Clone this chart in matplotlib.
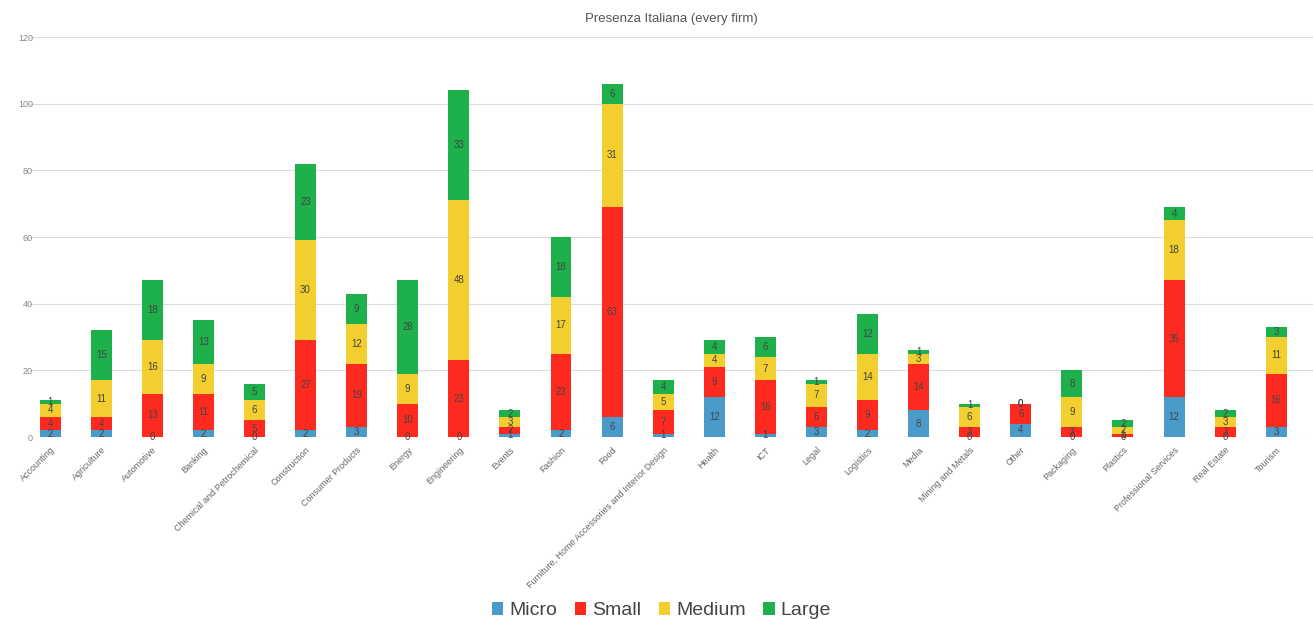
import matplotlib
matplotlib.use("Agg")
import matplotlib.pyplot as plt
import numpy as np

plt.rcParams['font.family'] = ['Liberation Sans', 'DejaVu Sans']

# sectors and firm counts per size class
categories = ['Accounting', 'Agriculture', 'Automotive', 'Banking',
              'Chemical and Petrochemical', 'Construction', 'Consumer Products',
              'Energy', 'Engineering', 'Events', 'Fashion', 'Food',
              'Furniture, Home Accessories and Interior Design', 'Health', 'ICT',
              'Legal', 'Logistics', 'Media', 'Mining and Metals', 'Other',
              'Packaging', 'Plastics', 'Professional Services', 'Real Estate',
              'Tourism']
micro = [2, 2, 0, 2, 0, 2, 3, 0, 0, 1, 2, 6, 1, 12, 1, 3, 2, 8, 0, 4, 0, 0, 12, 0, 3]
small = [4, 4, 13, 11, 5, 27, 19, 10, 23, 2, 23, 63, 7, 9, 16, 6, 9, 14, 3, 6, 3, 1, 35, 3, 16]
medium = [4, 11, 16, 9, 6, 30, 12, 9, 48, 3, 17, 31, 5, 4, 7, 7, 14, 3, 6, 0, 9, 2, 18, 3, 11]
large = [1, 15, 18, 13, 5, 23, 9, 28, 33, 2, 18, 6, 4, 4, 6, 1, 12, 1, 1, 0, 8, 2, 4, 2, 3]

series = [('Micro', micro, '#4a9bc9'),
          ('Small', small, '#ff2a1f'),
          ('Medium', medium, '#f2ce2e'),
          ('Large', large, '#1db04b')]

fig = plt.figure(figsize=(13.13, 6.19), dpi=100)
ax = fig.add_axes([0.023, 0.294, 0.977, 0.646])

x = np.arange(len(categories))
bottom = np.zeros(len(categories))
for name, vals, col in series:
    vals = np.array(vals)
    ax.bar(x, vals, 0.41, bottom=bottom, color=col, label=name, zorder=3)
    for xi, b, v in zip(x, bottom, vals):
        ax.text(xi, b + v / 2, str(v), ha='center', va='center',
                fontsize=7, color='#444444', zorder=4)
    bottom += vals

ax.set_ylim(0, 120)
ax.set_xlim(-0.39, 24.72)
ax.set_yticks(range(0, 121, 20))
ax.grid(axis='y', color='#dddddd', lw=0.8, zorder=0)
for s in ax.spines.values():
    s.set_visible(False)
ax.tick_params(length=0)
ax.tick_params(axis='y', labelsize=6.5, labelcolor='#888888', pad=-2)
ax.set_xticks(x)
ax.set_xticklabels(categories, rotation=45, ha='right', rotation_mode='anchor',
                   fontsize=6.5, color='#666666')
ax.tick_params(axis='x', pad=6)
ax.set_title('Presenza Italiana (every firm)', fontsize=9.5, color='#555555', pad=11)

ax.legend(loc='center', bbox_to_anchor=(0.492, -0.435), ncol=4, frameon=False,
          fontsize=14, handlelength=0.6, handleheight=0.6, handletextpad=0.3,
          columnspacing=0.9, labelcolor='#444444')

fig.savefig('out.png', dpi=100)
